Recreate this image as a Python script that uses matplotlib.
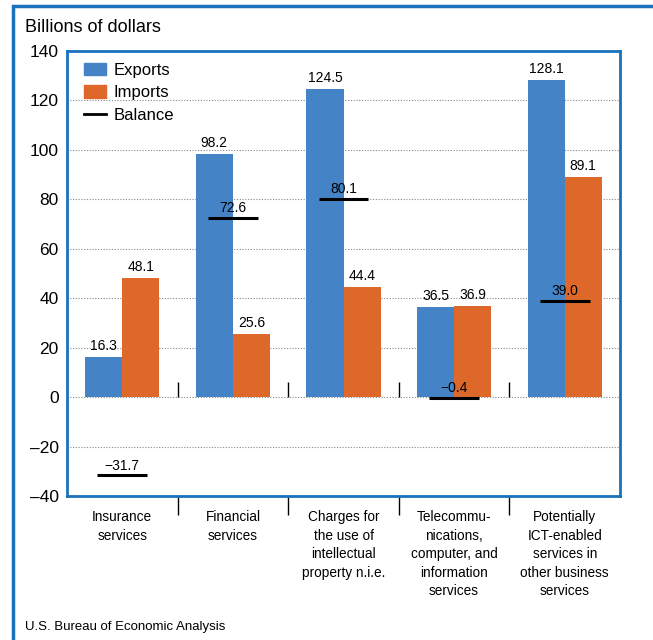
import matplotlib
matplotlib.use("Agg")
import matplotlib.pyplot as plt
from matplotlib.patches import Patch, Rectangle
from matplotlib.lines import Line2D
import numpy as np

plt.rcParams['font.family'] = ['Liberation Sans Narrow', 'Liberation Sans', 'DejaVu Sans']

categories = ["Insurance\nservices", "Financial\nservices",
              "Charges for\nthe use of\nintellectual\nproperty n.i.e.",
              "Telecommu-\nnications,\ncomputer, and\ninformation\nservices",
              "Potentially\nICT-enabled\nservices in\nother business\nservices"]
exports = [16.3, 98.2, 124.5, 36.5, 128.1]
imports = [48.1, 25.6, 44.4, 36.9, 89.1]
balance = [-31.7, 72.6, 80.1, -0.4, 39.0]
yticks = [-40, -20, 0, 20, 40, 60, 80, 100, 120, 140]

blue = "#4484C6"
orange = "#DD682A"
frame = "#1A72BE"

fig = plt.figure(figsize=(6.53, 6.40), dpi=100)
ax = fig.add_axes([67/653, 1-496/640, (620-67)/653, (496-51)/640])

x = np.arange(len(categories))
w = 0.335
ax.bar(x - w/2, exports, w, color=blue, zorder=2)
ax.bar(x + w/2, imports, w, color=orange, zorder=2)
ax.hlines(balance, x - 0.225, x + 0.225, color="black", lw=2.2, zorder=3)

for xi, e, im, b in zip(x, exports, imports, balance):
    ax.annotate(f"{e:.1f}".replace("-", "\u2212"), (xi - w/2, e), xytext=(0, 3),
                textcoords="offset points", ha="center", va="bottom", fontsize=10)
    ax.annotate(f"{im:.1f}".replace("-", "\u2212"), (xi + w/2, im), xytext=(0, 3),
                textcoords="offset points", ha="center", va="bottom", fontsize=10)
    ax.annotate(f"{b:.1f}".replace("-", "\u2212"), (xi, b), xytext=(0, 2),
                textcoords="offset points", ha="center", va="bottom", fontsize=10, zorder=4)

ax.set_xlim(-0.5, 4.5)
ax.set_ylim(-40, 140)
ax.set_yticks(yticks)
ax.set_yticklabels([str(t).replace("-", "\u2013") for t in yticks], fontsize=12.5)
ax.tick_params(axis="y", length=0, pad=6)
for t in yticks[1:-1]:
    ax.axhline(t, color="#888888", lw=0.8, ls=(0, (1, 1.5)), zorder=1)

ax.set_xticks(x)
ax.set_xticklabels(categories, fontsize=9.8, va="top", linespacing=1.42)
ax.set_xticks(np.arange(0.5, 4.5, 1), minor=True)
ax.tick_params(axis="x", which="major", length=0, pad=10)
ax.tick_params(axis="x", which="minor", length=14, width=1, color="black", direction="out")
ax.vlines(np.arange(0.5, 4.5, 1), 0, 6, color="black", lw=1, zorder=3)

for s in ax.spines.values():
    s.set_color(frame)
    s.set_linewidth(2)

handles = [Patch(color=blue, label="Exports"), Patch(color=orange, label="Imports"),
           Line2D([], [], color="black", lw=2, label="Balance")]
ax.legend(handles=handles, loc="upper left", frameon=False, fontsize=12,
          handlelength=1.3, handleheight=0.8, handletextpad=0.45, labelspacing=0.45,
          borderaxespad=0.3, bbox_to_anchor=(0.01, 1.0))

fig.text(25/653, 1-27/640, "Billions of dollars", fontsize=13, va="center", ha="left")
fig.text(25/653, 1-627/640, "U.S. Bureau of Economic Analysis", fontsize=9.5, va="center", ha="left")

fig.patches.append(Rectangle((13/653, -0.2), 1.5, 1.2 - 6/640, transform=fig.transFigure,
                             fill=False, edgecolor=frame, lw=2.5))

fig.savefig("out.png", dpi=100)
